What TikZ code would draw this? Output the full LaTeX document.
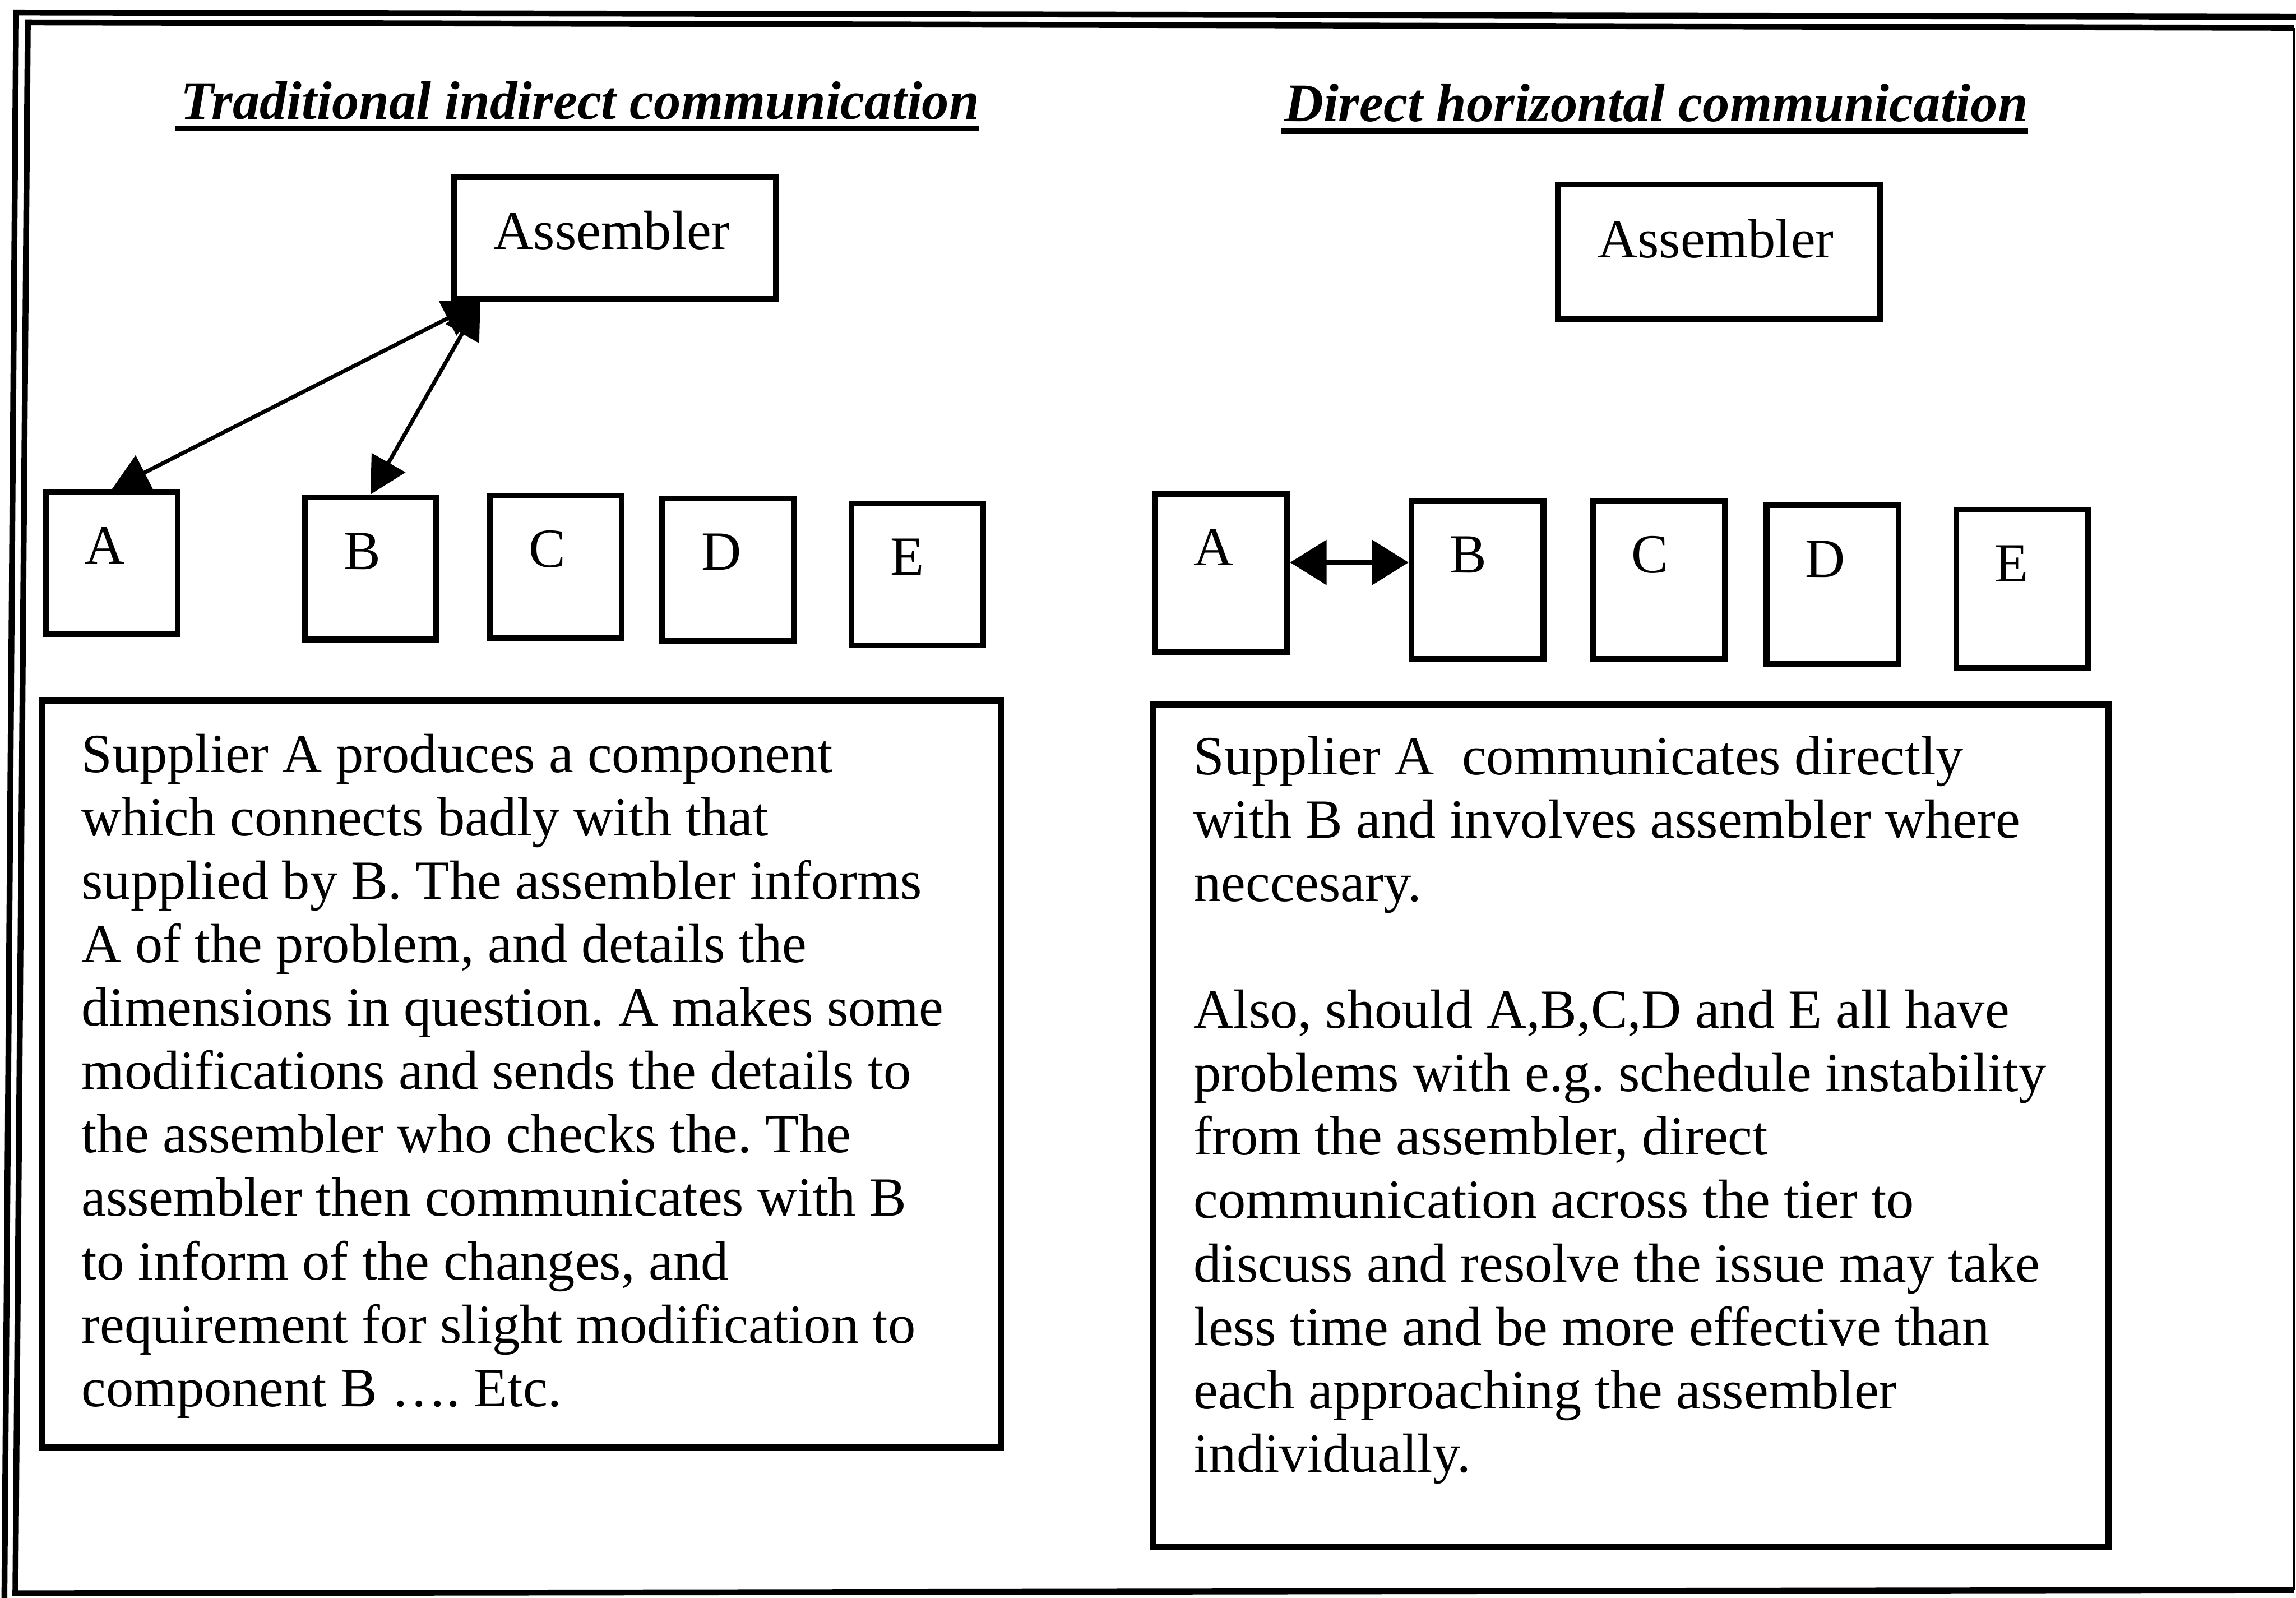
\documentclass[tikz,border=0pt]{standalone}
\usepackage{fontspec}
\setmainfont{Liberation Serif}
\usetikzlibrary{arrows.meta,calc}

% first-line strut: puts the first baseline 30pt below a node's top edge
\newcommand\fstrut{\rule{0pt}{30pt}}

\tikzset{
  frameline/.style={line width=4pt},
  asmbox/.style={draw, line width=4pt, anchor=north west, inner sep=0pt,
                 minimum width=220pt},
  tierbox/.style={draw, line width=4pt, anchor=north west, inner sep=0pt,
                  minimum width=90pt},
  textbox/.style={draw, line width=4.5pt, anchor=north west, inner sep=0pt},
  boxlabel/.style={anchor=base west, inner sep=0pt,
                   font=\fontsize{37.7}{43.3}\selectfont},
  bodytext/.style={anchor=north west, inner sep=0pt, align=left,
                   font=\fontsize{37.7}{43.3}\selectfont},
  heading/.style={anchor=base, inner sep=0pt,
                  font=\fontsize{37}{42}\selectfont\bfseries\itshape},
  uline/.style={line width=4pt},
  linkL/.style={line width=2.7pt,
                {Triangle[length=25pt,width=26pt]}-{Triangle[length=25pt,width=26pt]}},
  linkR/.style={line width=4pt,
                {Triangle[length=25pt,width=30pt]}-{Triangle[length=25pt,width=30pt]}}
}

\begin{document}
\frenchspacing
\begin{tikzpicture}[x=1pt, y=-1pt]
  \useasboundingbox (0,0) rectangle (1568,1091);

  % double frame round the figure
  \draw[frameline] (1568,11.5) -- (11,8.5) -- (3,1091);
  \draw[frameline] (1566.5,19) -- (19,15.3) -- (10.5,1087.8) -- (1566.5,1085.5);
  \draw[line width=1.5pt] (1567,19) -- (1567,1085.5);

  % headings
  \node[heading] (tL) at (396,81.2) {Traditional indirect communication};
  \draw[uline] ([shift={(-3.5pt,-6.4pt)}]tL.base west) -- ([yshift=-6.4pt]tL.base east);
  \node[heading] (tR) at (1131,83) {Direct horizontal communication};
  \draw[uline] ([shift={(-2pt,-6.4pt)}]tR.base west) -- ([yshift=-6.4pt]tR.base east);

  % ---------- traditional indirect communication ----------
  \node[asmbox, minimum height=83pt] (asmL) at (308,119) {};
  \node[boxlabel] (asmLt) at ($(asmL.north west)+(29,51)$) {Assembler};

  \node[tierbox, minimum height=97pt] (lA) at (29.4,334) {};
  \node[tierbox, minimum height=97pt] (lB) at (206,337.6) {};
  \node[tierbox, minimum height=97pt] (lC) at (332.5,336.4) {};
  \node[tierbox, minimum height=97pt] (lD) at (450.3,338.3) {};
  \node[tierbox, minimum height=97pt] (lE) at (579.5,341.7) {};
  \node[boxlabel] (lAt) at ($(lA.north west)+(28.5,51)$) {A};
  \node[boxlabel] (lBt) at ($(lB.north west)+(28.5,51)$) {B};
  \node[boxlabel] (lCt) at ($(lC.north west)+(28.5,51)$) {C};
  \node[boxlabel] (lDt) at ($(lD.north west)+(28.5,51)$) {D};
  \node[boxlabel] (lEt) at ($(lE.north west)+(28.5,51)$) {E};

  \coordinate (hub) at ($(asmL.south west)+(20,0)$);
  \draw[linkL] (lA.north) -- (hub);
  \draw[linkL] (lB.north) -- (hub);

  \node[textbox, minimum width=655pt, minimum height=510pt] (boxL) at (26.5,476) {};
  \node[bodytext] (txtL) at ($(boxL.north west)+(29,21)$) {\fstrut Supplier A produces a component\\
which connects badly with that\\
supplied by B. The assembler informs\\
A of the problem, and details the\\
dimensions in question. A makes some\\
modifications and sends the details to\\
the assembler who checks the. The\\
assembler then communicates with B\\
to inform of the changes, and\\
requirement for slight modification to\\
component B …. Etc.};

  % ---------- direct horizontal communication ----------
  \node[asmbox, minimum height=92pt] (asmR) at (1062,124) {};
  \node[boxlabel] (asmRt) at ($(asmR.north west)+(29,52)$) {Assembler};

  \node[tierbox, minimum height=108pt] (rA) at (787,335) {};
  \node[tierbox, minimum height=108pt] (rB) at (962,340) {};
  \node[tierbox, minimum height=108pt] (rC) at (1086,340) {};
  \node[tierbox, minimum height=108pt] (rD) at (1204.5,343) {};
  \node[tierbox, minimum height=108pt] (rE) at (1334,346) {};
  \node[boxlabel] (rAt) at ($(rA.north west)+(28,51)$) {A};
  \node[boxlabel] (rBt) at ($(rB.north west)+(28,51)$) {B};
  \node[boxlabel] (rCt) at ($(rC.north west)+(28,51)$) {C};
  \node[boxlabel] (rDt) at ($(rD.north west)+(28,51)$) {D};
  \node[boxlabel] (rEt) at ($(rE.north west)+(28,51)$) {E};

  \draw[linkR] ([yshift=7pt]rA.east) -- ([yshift=7pt]rA.east -| rB.west);

  \node[textbox, minimum width=653pt, minimum height=575pt] (boxR) at (785,479) {};
  \node[bodytext] (txtR) at ($(boxR.north west)+(30,19.5)$) {\fstrut Supplier A\ \ communicates directly\\
with B and involves assembler where\\
neccesary.\\[43.3pt]
Also, should A,B,C,D and E all have\\
problems with e.g. schedule instability\\
from the assembler, direct\\
communication across the tier to\\
discuss and resolve the issue may take\\
less time and be more effective than\\
each approaching the assembler\\
individually.};
\end{tikzpicture}
\end{document}
